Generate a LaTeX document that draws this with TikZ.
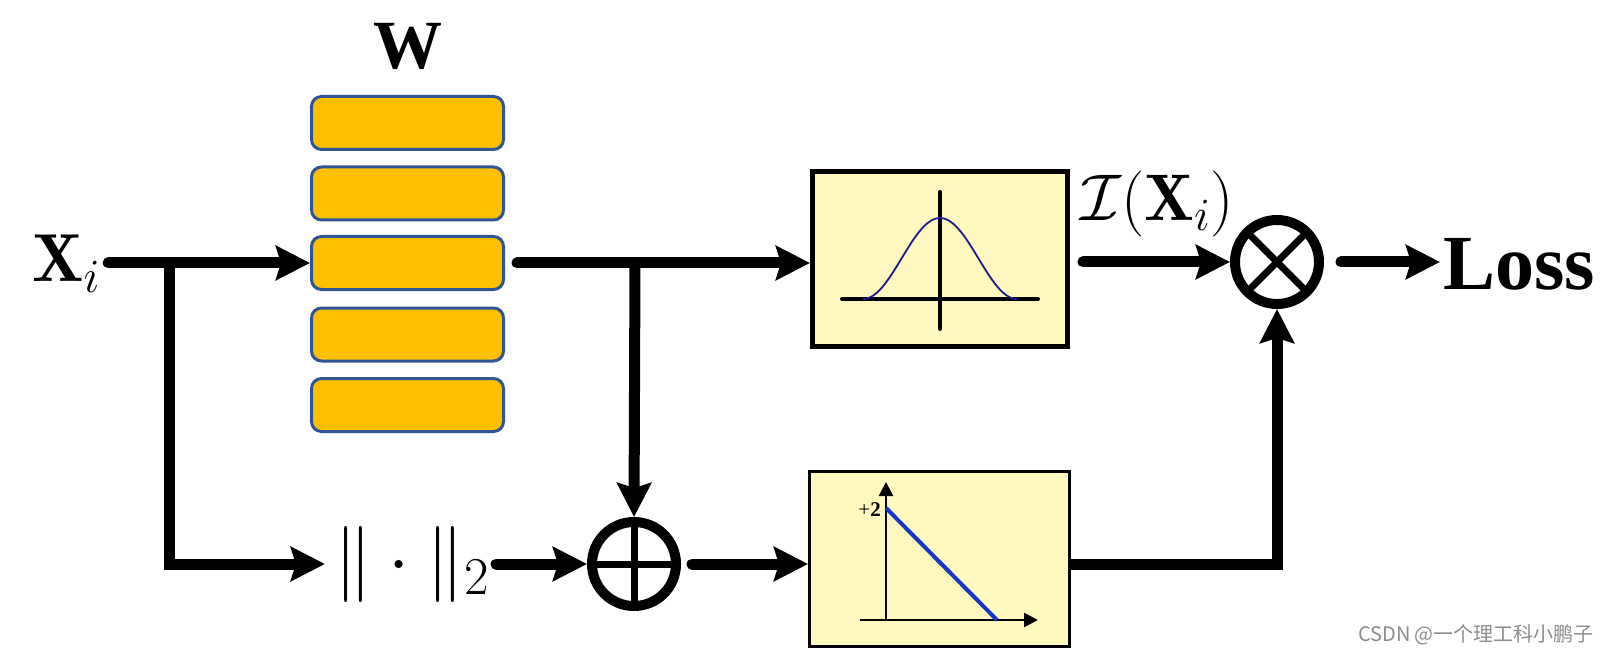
\RequirePackage{fix-cm}
\documentclass[tikz,border=0pt]{standalone}
\usepackage{fontspec}
\newfontfamily\timesfont{Liberation Serif}
\newfontfamily\cjkfont{Noto Sans CJK SC}
\usetikzlibrary{arrows.meta}
\definecolor{barfill}{HTML}{FFC000}
\definecolor{barline}{HTML}{2F5597}
\definecolor{boxfill}{HTML}{FFF9BF}
\definecolor{bellblue}{HTML}{1C1C88}
\definecolor{rampblue}{HTML}{1636C8}
\definecolor{wmgray}{HTML}{8C8C8C}
\begin{document}
\begin{tikzpicture}[x=1pt,y=-1pt,
  flow/.style={line width=11pt, line cap=round, -{Stealth[length=34pt,width=34pt,inset=5pt]}},
  wbar/.style={draw=barline, fill=barfill, line width=3pt, rounded corners=10pt,
    minimum width=192pt, minimum height=53pt, inner sep=0pt},
  ring/.style={circle, draw, line width=10pt, minimum size=84pt, inner sep=0pt},
  fbox/.style={draw, fill=boxfill, inner sep=0pt},
  crossline/.style={line width=7pt},
  thinaxis/.style={line width=2.5pt, -{Triangle[length=14pt,width=14pt]}},
]
\useasboundingbox (0,0) rectangle (1607,655);

% labels
\node[inner sep=0pt, anchor=base west, font=\fontsize{68}{70}\selectfont] (xi) at (32,282) {$\mathbf{X}_i$};
\node[inner sep=0pt, font=\timesfont\bfseries\fontsize{69}{70}\selectfont] (wlab) at (408,46) {W};

% W bars
\node[wbar] (bar1) at (407.5,123) {};
\node[wbar] (bar2) at (407.5,193.5) {};
\node[wbar] (bar3) at (407.5,263) {};
\node[wbar] (bar4) at (407.5,334.5) {};
\node[wbar] (bar5) at (407.5,405) {};

% norm
\node[inner sep=0pt, font=\fontsize{76}{80}\selectfont] (norm) at (412,564) {$\|\cdot\|_2$};

% rings
\node[ring] (oplus) at (634,564) {};
\draw[crossline] ([yshift=42pt]oplus.center) -- ([yshift=-42pt]oplus.center);
\draw[crossline] ([xshift=42pt]oplus.center) -- ([xshift=-42pt]oplus.center);
\node[ring] (otimes) at (1277,262) {};
\draw[crossline, shift={(otimes.center)}] (45:42) -- (225:42) (135:42) -- (-45:42);

% Gaussian box
\node[fbox, line width=5pt, minimum width=255pt, minimum height=174pt] (gbox) at (940,259) {};
\draw[line width=4pt, line cap=round] (842,299) -- (1038,299);
\draw[line width=4pt, line cap=round] (940,192) -- (940,329);
\draw[bellblue, line width=1.8pt] plot[domain=-77:77, samples=100] ({940+\x},{299-40.5*(1+cos(180*\x/77))});
\node[inner sep=0pt, font=\fontsize{66}{70}\selectfont] (ilab) at (1157,204) {$\mathcal{I}(\mathbf{X}_i)$};

% ramp box
\node[fbox, line width=3pt, minimum width=260pt, minimum height=175pt] (sbox) at (939.5,559) {};
\draw[thinaxis] (886,620) -- (886,482);
\draw[thinaxis] (860,620) -- (1038,620);
\draw[rampblue, line width=4pt] (886,508) -- (997,620);
\node[inner sep=0pt, anchor=east, font=\timesfont\fontsize{21}{21}\selectfont] (plus2) at (881,510) {+\textbf{2}};

% Loss
\node[inner sep=0pt, anchor=base west, font=\timesfont\bfseries\fontsize{78}{80}\selectfont] (loss) at (1443,290) {Loss};

% connectors
\coordinate (b1) at (169,263);
\coordinate (b2) at (635,263);
\draw[flow, shorten <=8pt] (xi.east |- bar3.west) -- (bar3.west);
\draw[flow] (b1) |- ([xshift=-9pt]norm.west);
\draw[flow, shorten <=6pt] (norm.east) -- (oplus.west);
\draw[flow, shorten <=12pt] (bar3.east) -- (bar3.east -| gbox.west);
\draw[flow] (b2) -- (oplus.north);
\draw[flow, shorten <=11pt] (oplus.east) -- (oplus.east -| sbox.west);
\draw[flow, shorten <=13pt] (gbox.east |- otimes.west) -- (otimes.west);
\draw[flow, shorten <=17pt, shorten >=3pt] (otimes.east) -- (otimes.east -| loss.west);
\draw[flow, line cap=butt] (oplus.east -| sbox.east) -| (otimes.south);

% watermark
\node[inner sep=0pt, text=wmgray, font=\cjkfont\fontsize{20}{20}\selectfont] (wm) at (1476,635) {CSDN @一个理工科小鹏子};
\end{tikzpicture}
\end{document}
